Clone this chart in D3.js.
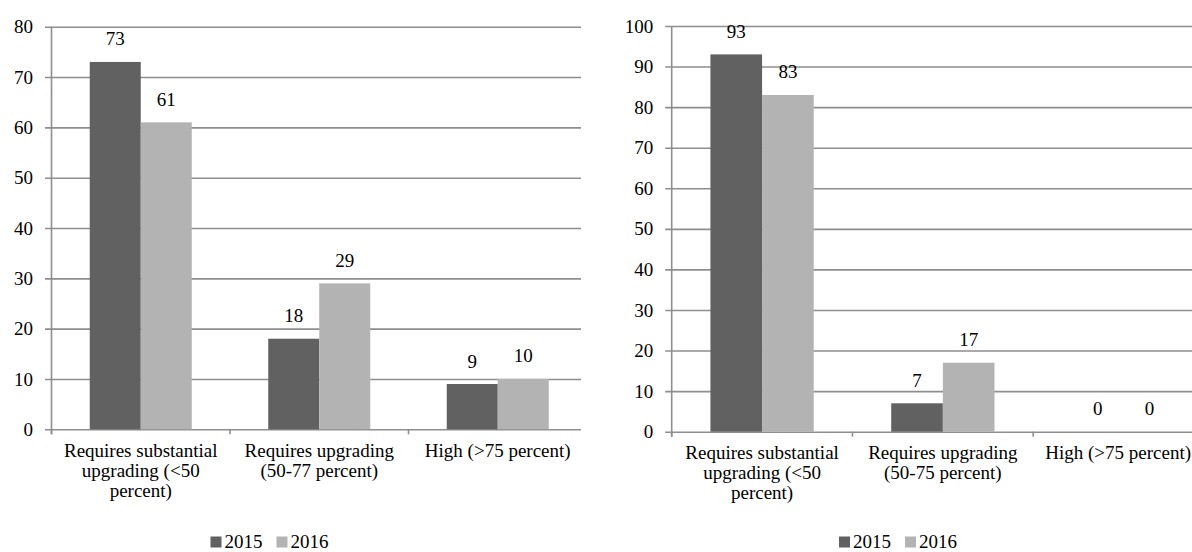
<!DOCTYPE html>
<html>
<head>
<meta charset="utf-8">
<script src="https://cdnjs.cloudflare.com/ajax/libs/d3/7.8.5/d3.min.js"></script>
<style>
  html, body { margin: 0; padding: 0; background: #fff; }
  svg { display: block; }
  svg text { font-family: 'Liberation Serif', 'DejaVu Serif', 'Times New Roman', Times, serif; fill: #000; }
</style>
</head>
<body>
<svg id="chart" width="1192" height="552"></svg>
<script>
// Series and category data
const years = ["2015", "2016"];

const leftCategories = [
  "Requires substantial upgrading (<50 percent)",
  "Requires upgrading (50-77 percent)",
  "High (>75 percent)"
];
const left2015 = [73, 18, 9];
const left2016 = [61, 29, 10];
const leftTicks = [0, 10, 20, 30, 40, 50, 60, 70, 80];

const rightCategories = [
  "Requires substantial upgrading (<50 percent)",
  "Requires upgrading (50-75 percent)",
  "High (>75 percent)"
];
const right2015 = [93, 7, 0];
const right2016 = [83, 17, 0];
const rightTicks = [0, 10, 20, 30, 40, 50, 60, 70, 80, 90, 100];

const colors = { "2015": "#616161", "2016": "#b3b3b3" };
const gridColor = "#8e8e8e";
const FONT = 19;
const SERIF = "'Liberation Serif', 'DejaVu Serif', 'Times New Roman', Times, serif";
const SVG_W = 1192;

const svg = d3.select("#chart");

// Clip for the left panel (the panel ends before the right chart begins)
svg.append("defs").append("clipPath").attr("id", "leftClip")
  .append("rect").attr("x", 0).attr("y", 0).attr("width", 581).attr("height", 552);

function wrapLabel(textSel, maxWidth, lineHeight) {
  textSel.each(function () {
    const t = d3.select(this);
    const words = t.text().split(/\s+/);
    t.text(null);
    const x = t.attr("x");
    let line = [];
    let tspan = t.append("tspan").attr("x", x).attr("dy", 0);
    words.forEach(w => {
      line.push(w);
      tspan.text(line.join(" "));
      if (tspan.node().getComputedTextLength() > maxWidth && line.length > 1) {
        line.pop();
        tspan.text(line.join(" "));
        line = [w];
        tspan = t.append("tspan").attr("x", x).attr("dy", lineHeight).text(w);
      }
    });
    // keep the label inside the drawing
    const bb = this.getBBox();
    const over = bb.x + bb.width - (SVG_W - 1);
    if (over > 0) {
      const nx = +x - over;
      t.attr("x", nx).selectAll("tspan").attr("x", nx);
    }
  });
}

function drawPanel(cfg) {
  const g = svg.append("g");
  if (cfg.clip) g.attr("clip-path", "url(#" + cfg.clip + ")");

  const rows = cfg.categories.map((c, i) => ({ cat: c, "2015": cfg.v2015[i], "2016": cfg.v2016[i] }));

  const x = d3.scaleBand().domain(cfg.categories).range([cfg.x0, cfg.x1]).padding(0);
  const xs = d3.scaleBand().domain(years).range([0, x.bandwidth()]).paddingInner(0).paddingOuter(0.75);
  const y = d3.scaleLinear().domain([0, d3.max(cfg.ticks)]).range([cfg.yBottom, cfg.yTop]);

  // Gridlines + value axis labels
  const gridStart = cfg.x0 - 6.5;
  const yAxis = g.append("g")
    .attr("transform", `translate(${gridStart},0)`)
    .call(d3.axisLeft(y).tickValues(cfg.ticks).tickFormat(d3.format("d"))
      .tickSizeInner(-(cfg.gridEnd - gridStart)).tickSizeOuter(0).tickPadding(12));
  yAxis.attr("font-family", SERIF).attr("font-size", FONT);
  yAxis.select(".domain").remove();
  yAxis.selectAll(".tick line").attr("stroke", gridColor).attr("stroke-width", 1.6);
  yAxis.selectAll(".tick text").attr("fill", "#000");

  // Bars
  const groups = g.append("g").selectAll("g").data(rows).join("g")
    .attr("transform", d => `translate(${x(d.cat)},0)`);
  groups.selectAll("rect").data(d => years.map(k => ({ key: k, value: d[k] }))).join("rect")
    .attr("x", d => xs(d.key))
    .attr("width", xs.bandwidth())
    .attr("y", d => y(d.value))
    .attr("height", d => y(0) - y(d.value))
    .attr("fill", d => colors[d.key]);

  // Value labels
  groups.selectAll("text.val").data(d => years.map(k => ({ key: k, value: d[k] }))).join("text")
    .attr("class", "val")
    .attr("x", d => xs(d.key) + xs.bandwidth() / 2)
    .attr("y", d => y(d.value) - 16.5)
    .attr("text-anchor", "middle")
    .attr("font-family", SERIF)
    .attr("font-size", FONT)
    .text(d => d.value);

  // Category axis: vertical axis line and boundary ticks
  g.append("line")
    .attr("x1", cfg.x0).attr("x2", cfg.x0)
    .attr("y1", y(d3.max(cfg.ticks))).attr("y2", y(0) + 5)
    .attr("stroke", gridColor).attr("stroke-width", 1.6);
  const bounds = cfg.categories.map(c => x(c)).concat([cfg.x1]);
  g.append("g").selectAll("line").data(bounds).join("line")
    .attr("x1", d => d).attr("x2", d => d)
    .attr("y1", y(0)).attr("y2", y(0) + 5)
    .attr("stroke", gridColor).attr("stroke-width", 1.6);

  // Category labels
  g.append("g").selectAll("text").data(cfg.categories).join("text")
    .attr("x", d => x(d) + x.bandwidth() / 2)
    .attr("y", y(0) + 27.5)
    .attr("text-anchor", "middle")
    .attr("font-family", SERIF)
    .attr("font-size", FONT)
    .text(d => d)
    .call(wrapLabel, x.bandwidth() - 6, 20);

  // Legend
  const legend = svg.append("g");
  const items = legend.selectAll("g").data(years).join("g");
  items.append("rect").attr("width", 11).attr("height", 11).attr("y", -11)
    .attr("fill", d => colors[d]);
  items.append("text").attr("x", 14).attr("font-family", SERIF).attr("font-size", FONT).text(d => d);
  let cx = 0;
  items.each(function () {
    const it = d3.select(this);
    it.attr("transform", `translate(${cx},0)`);
    cx += 14 + it.select("text").node().getComputedTextLength() + 14;
  });
  const total = cx - 14;
  legend.attr("transform", `translate(${cfg.legendCenter - total / 2},${cfg.legendY})`);
}

drawPanel({
  categories: leftCategories, v2015: left2015, v2016: left2016, ticks: leftTicks,
  x0: 51.5, x1: 587, gridEnd: 581, yTop: 26.7, yBottom: 429.3,
  legendCenter: 269.5, legendY: 547.5, clip: "leftClip"
});

drawPanel({
  categories: rightCategories, v2015: right2015, v2016: right2016, ticks: rightTicks,
  x0: 671.7, x1: 1214, gridEnd: 1214, yTop: 26, yBottom: 431.7,
  legendCenter: 898, legendY: 547.5, clip: null
});
</script>
</body>
</html>
